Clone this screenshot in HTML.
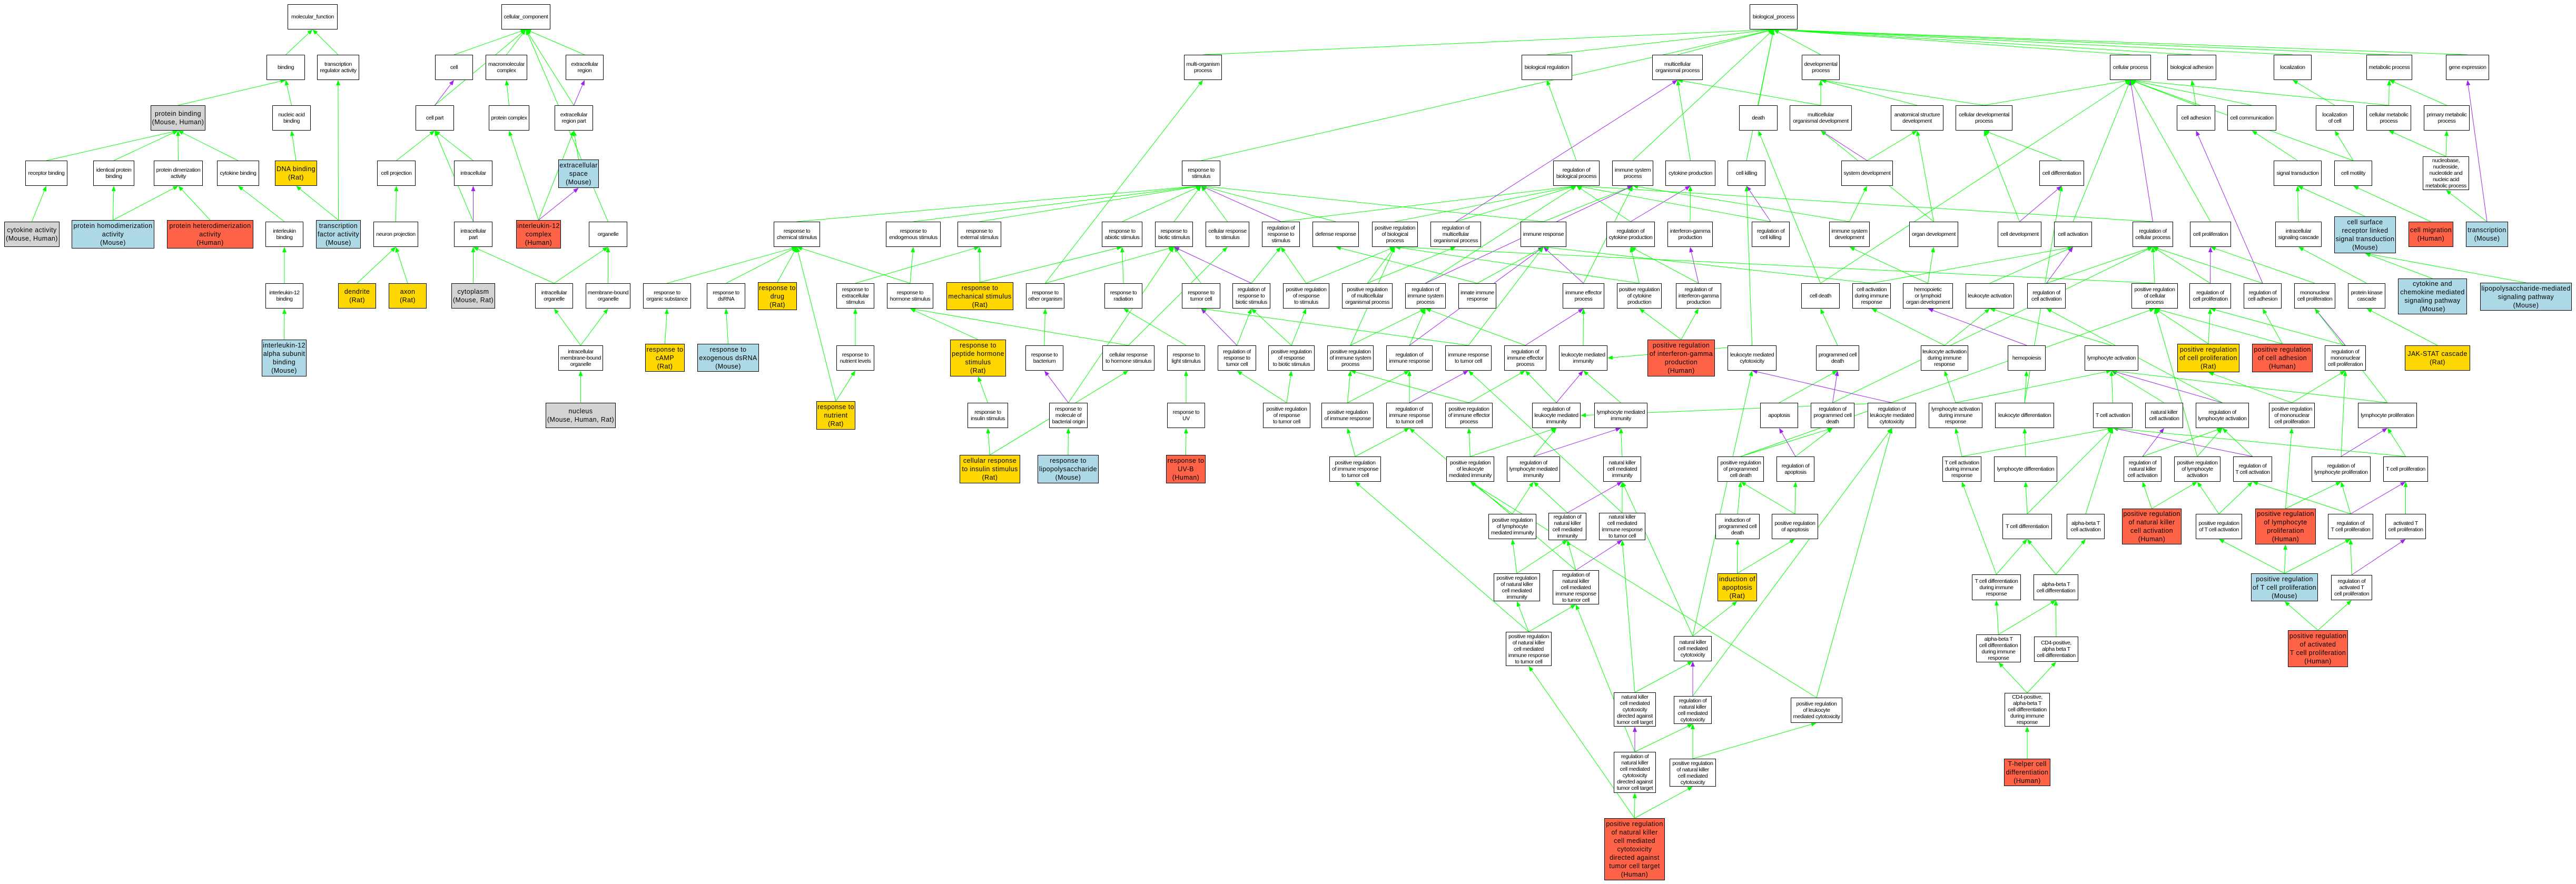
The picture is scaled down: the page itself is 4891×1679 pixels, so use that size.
<!DOCTYPE html>
<html><head><meta charset="utf-8">
<style>
html,body{margin:0;padding:0;background:#fff;}
#w{position:relative;width:4891px;height:1679px;overflow:hidden;background:#fff;font-family:"Liberation Sans",sans-serif;}
.n{position:absolute;box-sizing:border-box;border:1px solid #000;background:#fff;display:flex;align-items:center;justify-content:center;text-align:center;font-size:10.5px;line-height:12px;letter-spacing:-0.4px;color:#000;z-index:2;overflow:visible;white-space:nowrap;}
.c{font-size:12.5px;line-height:16px;letter-spacing:0.4px;}
.y{background:#FFD700}.b{background:#ADD8E6}.r{background:#FF6347}.g{background:#D3D3D3}
svg{position:absolute;left:0;top:0;z-index:1;}
</style></head><body><div id="w">
<svg id="s" width="4891" height="1679"></svg>
<!-- MF / CC -->
<div class="n" id="MF" style="left:546px;top:8px;width:95px;height:48px">molecular_function</div>
<div class="n" id="CC" style="left:952px;top:8px;width:93px;height:48px">cellular_component</div>
<div class="n" id="bind" style="left:506px;top:104px;width:73px;height:48px">binding</div>
<div class="n" id="tra" style="left:602px;top:104px;width:80px;height:48px">transcription<br>regulator activity</div>
<div class="n" id="cell" style="left:826px;top:104px;width:72px;height:48px">cell</div>
<div class="n" id="macro" style="left:922px;top:104px;width:79px;height:48px">macromolecular<br>complex</div>
<div class="n" id="exreg" style="left:1074px;top:104px;width:72px;height:48px">extracellular<br>region</div>
<div class="n c g" id="pbind" style="left:286px;top:200px;width:104px;height:48px">protein binding<br>(Mouse, Human)</div>
<div class="n" id="nab" style="left:517px;top:200px;width:73px;height:48px">nucleic acid<br>binding</div>
<div class="n" id="cpart" style="left:789px;top:200px;width:73px;height:48px">cell part</div>
<div class="n" id="pcomp" style="left:928px;top:200px;width:77px;height:48px">protein complex</div>
<div class="n" id="exrp" style="left:1053px;top:200px;width:73px;height:48px">extracellular<br>region part</div>
<div class="n" id="recb" style="left:48px;top:305px;width:80px;height:48px">receptor binding</div>
<div class="n" id="idpb" style="left:177px;top:305px;width:78px;height:48px">identical protein<br>binding</div>
<div class="n" id="pdim" style="left:292px;top:305px;width:93px;height:48px">protein dimerization<br>activity</div>
<div class="n" id="cytb" style="left:412px;top:305px;width:80px;height:48px">cytokine binding</div>
<div class="n c y" id="dnab" style="left:522px;top:305px;width:80px;height:48px">DNA binding<br>(Rat)</div>
<div class="n" id="cproj" style="left:716px;top:305px;width:73px;height:48px">cell projection</div>
<div class="n" id="intra" style="left:862px;top:305px;width:73px;height:48px">intracellular</div>
<div class="n c b" id="exsp" style="left:1060px;top:303px;width:77px;height:54px">extracellular<br>space<br>(Mouse)</div>
<div class="n c g" id="cyta" style="left:8px;top:421px;width:105px;height:48px">cytokine activity<br>(Mouse, Human)</div>
<div class="n c b" id="phomo" style="left:136px;top:418px;width:157px;height:54px">protein homodimerization<br>activity<br>(Mouse)</div>
<div class="n c r" id="phet" style="left:317px;top:418px;width:164px;height:54px">protein heterodimerization<br>activity<br>(Human)</div>
<div class="n" id="ilb" style="left:504px;top:421px;width:72px;height:48px">interleukin<br>binding</div>
<div class="n c b" id="tfa" style="left:600px;top:418px;width:85px;height:54px">transcription<br>factor activity<br>(Mouse)</div>
<div class="n" id="nproj" style="left:709px;top:421px;width:85px;height:48px">neuron projection</div>
<div class="n" id="intrap" style="left:862px;top:421px;width:73px;height:48px">intracellular<br>part</div>
<div class="n c r" id="il12c" style="left:980px;top:418px;width:85px;height:54px">interleukin-12<br>complex<br>(Human)</div>
<div class="n" id="org" style="left:1118px;top:421px;width:73px;height:48px">organelle</div>
<div class="n" id="il12b" style="left:504px;top:538px;width:72px;height:48px">interleukin-12<br>binding</div>
<div class="n c y" id="dend" style="left:642px;top:538px;width:72px;height:48px">dendrite<br>(Rat)</div>
<div class="n c y" id="axon" style="left:738px;top:538px;width:72px;height:48px">axon<br>(Rat)</div>
<div class="n c g" id="cytop" style="left:857px;top:538px;width:83px;height:48px">cytoplasm<br>(Mouse, Rat)</div>
<div class="n" id="iorg" style="left:1016px;top:538px;width:72px;height:48px">intracellular<br>organelle</div>
<div class="n" id="mborg" style="left:1112px;top:538px;width:85px;height:48px">membrane-bound<br>organelle</div>
<div class="n c b" id="il12a" style="left:497px;top:645px;width:85px;height:70px">interleukin-12<br>alpha subunit<br>binding<br>(Mouse)</div>
<div class="n" id="imborg" style="left:1060px;top:656px;width:85px;height:48px">intracellular<br>membrane-bound<br>organelle</div>
<div class="n c g" id="nuc" style="left:1036px;top:765px;width:133px;height:48px">nucleus<br>(Mouse, Human, Rat)</div>
<!-- response to stimulus area -->
<div class="n" id="mop" style="left:2248px;top:104px;width:72px;height:48px">multi-organism<br>process</div>
<div class="n" id="rts" style="left:2244px;top:305px;width:73px;height:48px">response to<br>stimulus</div>
<div class="n" id="rchem" style="left:1469px;top:421px;width:88px;height:48px">response to<br>chemical stimulus</div>
<div class="n" id="rendo" style="left:1682px;top:421px;width:104px;height:48px">response to<br>endogenous stimulus</div>
<div class="n" id="rext" style="left:1818px;top:421px;width:83px;height:48px">response to<br>external stimulus</div>
<div class="n" id="rabio" style="left:2092px;top:421px;width:77px;height:48px">response to<br>abiotic stimulus</div>
<div class="n" id="rbio" style="left:2193px;top:421px;width:72px;height:48px">response to<br>biotic stimulus</div>
<div class="n" id="crs" style="left:2289px;top:421px;width:83px;height:48px">cellular response<br>to stimulus</div>
<div class="n" id="rrs" style="left:2396px;top:421px;width:72px;height:48px">regulation of<br>response to<br>stimulus</div>
<div class="n" id="rorg" style="left:1221px;top:538px;width:91px;height:48px">response to<br>organic substance</div>
<div class="n" id="rdsrna" style="left:1342px;top:538px;width:73px;height:48px">response to<br>dsRNA</div>
<div class="n c y" id="rdrug" style="left:1439px;top:536px;width:74px;height:53px">response to<br>drug<br>(Rat)</div>
<div class="n" id="rextra" style="left:1588px;top:538px;width:72px;height:48px">response to<br>extracellular<br>stimulus</div>
<div class="n" id="rhorm" style="left:1684px;top:538px;width:88px;height:48px">response to<br>hormone stimulus</div>
<div class="n c y" id="rmech" style="left:1797px;top:536px;width:127px;height:53px">response to<br>mechanical stimulus<br>(Rat)</div>
<div class="n" id="rother" style="left:1948px;top:538px;width:73px;height:48px">response to<br>other organism</div>
<div class="n" id="rrad" style="left:2097px;top:538px;width:72px;height:48px">response to<br>radiation</div>
<div class="n" id="rtumor" style="left:2244px;top:538px;width:73px;height:48px">response to<br>tumor cell</div>
<div class="n" id="rrbio" style="left:2340px;top:538px;width:72px;height:48px">regulation of<br>response to<br>biotic stimulus</div>
<div class="n c y" id="rcamp" style="left:1225px;top:653px;width:75px;height:53px">response to<br>cAMP<br>(Rat)</div>
<div class="n c b" id="rexds" style="left:1324px;top:653px;width:117px;height:53px">response to<br>exogenous dsRNA<br>(Mouse)</div>
<div class="n" id="rnutl" style="left:1588px;top:656px;width:72px;height:48px">response to<br>nutrient levels</div>
<div class="n c y" id="rpep" style="left:1804px;top:645px;width:106px;height:70px">response to<br>peptide hormone<br>stimulus<br>(Rat)</div>
<div class="n" id="rbact" style="left:1947px;top:656px;width:72px;height:48px">response to<br>bacterium</div>
<div class="n" id="crhorm" style="left:2093px;top:656px;width:99px;height:48px">cellular response<br>to hormone stimulus</div>
<div class="n" id="rlight" style="left:2216px;top:656px;width:72px;height:48px">response to<br>light stimulus</div>
<div class="n" id="rrtum" style="left:2312px;top:656px;width:73px;height:48px">regulation of<br>response to<br>tumor cell</div>
<div class="n c y" id="rnut" style="left:1550px;top:762px;width:74px;height:54px">response to<br>nutrient<br>(Rat)</div>
<div class="n" id="rins" style="left:1837px;top:765px;width:77px;height:48px">response to<br>insulin stimulus</div>
<div class="n" id="rmol" style="left:1992px;top:765px;width:73px;height:48px">response to<br>molecule of<br>bacterial origin</div>
<div class="n" id="ruv" style="left:2216px;top:765px;width:72px;height:48px">response to<br>UV</div>
<div class="n c y" id="crins" style="left:1822px;top:864px;width:115px;height:54px">cellular response<br>to insulin stimulus<br>(Rat)</div>
<div class="n c b" id="rlps" style="left:1970px;top:864px;width:116px;height:54px">response to<br>lipopolysaccharide<br>(Mouse)</div>
<div class="n c r" id="ruvb" style="left:2214px;top:864px;width:75px;height:54px">response to<br>UV-B<br>(Human)</div>
<!-- BP middle -->
<div class="n" id="BP" style="left:3322px;top:8px;width:91px;height:48px">biological_process</div>
<div class="n" id="breg" style="left:2889px;top:104px;width:96px;height:48px">biological regulation</div>
<div class="n" id="mcop" style="left:3137px;top:104px;width:96px;height:48px">multicellular<br>organismal process</div>
<div class="n" id="devp" style="left:3421px;top:104px;width:72px;height:48px">developmental<br>process</div>
<div class="n" id="death" style="left:3302px;top:200px;width:73px;height:48px">death</div>
<div class="n" id="mcod" style="left:3398px;top:200px;width:118px;height:48px">multicellular<br>organismal development</div>
<div class="n" id="asd" style="left:3590px;top:200px;width:100px;height:48px">anatomical structure<br>development</div>
<div class="n" id="rbp" style="left:2949px;top:305px;width:88px;height:48px">regulation of<br>biological process</div>
<div class="n" id="isp" style="left:3061px;top:305px;width:78px;height:48px">immune system<br>process</div>
<div class="n" id="cytp" style="left:3162px;top:305px;width:95px;height:48px">cytokine production</div>
<div class="n" id="ckill" style="left:3280px;top:305px;width:72px;height:48px">cell killing</div>
<div class="n" id="sysd" style="left:3496px;top:305px;width:98px;height:48px">system development</div>
<div class="n" id="defr" style="left:2492px;top:421px;width:88px;height:48px">defense response</div>
<div class="n" id="prbp" style="left:2605px;top:421px;width:87px;height:48px">positive regulation<br>of biological<br>process</div>
<div class="n" id="rmcop" style="left:2716px;top:421px;width:96px;height:48px">regulation of<br>multicellular<br>organismal process</div>
<div class="n" id="ir" style="left:2887px;top:421px;width:87px;height:48px">immune response</div>
<div class="n" id="rcytp" style="left:3050px;top:421px;width:92px;height:48px">regulation of<br>cytokine production</div>
<div class="n" id="ifng" style="left:3166px;top:421px;width:86px;height:48px">interferon-gamma<br>production</div>
<div class="n" id="rckill" style="left:3326px;top:421px;width:72px;height:48px">regulation of<br>cell killing</div>
<div class="n" id="isd" style="left:3473px;top:421px;width:77px;height:48px">immune system<br>development</div>
<div class="n" id="orgd" style="left:3625px;top:421px;width:93px;height:48px">organ development</div>
<div class="n" id="prrs" style="left:2436px;top:538px;width:88px;height:48px">positive regulation<br>of response<br>to stimulus</div>
<div class="n" id="prmcop" style="left:2548px;top:538px;width:96px;height:48px">positive regulation<br>of multicellular<br>organismal process</div>
<div class="n" id="risp" style="left:2668px;top:538px;width:77px;height:48px">regulation of<br>immune system<br>process</div>
<div class="n" id="iir" style="left:2769px;top:538px;width:72px;height:48px">innate immune<br>response</div>
<div class="n" id="iep" style="left:2967px;top:538px;width:79px;height:48px">immune effector<br>process</div>
<div class="n" id="prcytp" style="left:3070px;top:538px;width:85px;height:48px">positive regulation<br>of cytokine<br>production</div>
<div class="n" id="rifng" style="left:3182px;top:538px;width:86px;height:48px">regulation of<br>interferon-gamma<br>production</div>
<div class="n" id="cdeath" style="left:3420px;top:538px;width:73px;height:48px">cell death</div>
<div class="n" id="cadir" style="left:3517px;top:538px;width:73px;height:48px">cell activation<br>during immune<br>response</div>
<div class="n" id="hlod" style="left:3613px;top:538px;width:95px;height:48px">hemopoietic<br>or lymphoid<br>organ development</div>
<div class="n" id="prrbio" style="left:2408px;top:656px;width:88px;height:48px">positive regulation<br>of response<br>to biotic stimulus</div>
<div class="n" id="prisp" style="left:2520px;top:656px;width:88px;height:48px">positive regulation<br>of immune system<br>process</div>
<div class="n" id="rir" style="left:2632px;top:656px;width:88px;height:48px">regulation of<br>immune response</div>
<div class="n" id="irtc" style="left:2744px;top:656px;width:88px;height:48px">immune response<br>to tumor cell</div>
<div class="n" id="riep" style="left:2856px;top:656px;width:80px;height:48px">regulation of<br>immune effector<br>process</div>
<div class="n" id="lmi" style="left:2960px;top:656px;width:92px;height:48px">leukocyte mediated<br>immunity</div>
<div class="n c r" id="prifng" style="left:3128px;top:645px;width:128px;height:70px">positive regulation<br>of interferon-gamma<br>production<br>(Human)</div>
<div class="n" id="lmc" style="left:3280px;top:656px;width:93px;height:48px">leukocyte mediated<br>cytotoxicity</div>
<div class="n" id="pcd" style="left:3448px;top:656px;width:82px;height:48px">programmed cell<br>death</div>
<div class="n" id="ladir" style="left:3647px;top:656px;width:90px;height:48px">leukocyte activation<br>during immune<br>response</div>
<div class="n" id="prrtc" style="left:2398px;top:765px;width:90px;height:48px">positive regulation<br>of response<br>to tumor cell</div>
<div class="n" id="prir" style="left:2509px;top:765px;width:99px;height:48px">positive regulation<br>of immune response</div>
<div class="n" id="rirtc" style="left:2632px;top:765px;width:88px;height:48px">regulation of<br>immune response<br>to tumor cell</div>
<div class="n" id="prieb" style="left:2744px;top:765px;width:90px;height:48px">positive regulation<br>of immune effector<br>process</div>
<div class="n" id="rlmi" style="left:2909px;top:765px;width:92px;height:48px">regulation of<br>leukocyte mediated<br>immunity</div>
<div class="n" id="lymi" style="left:3027px;top:765px;width:101px;height:48px">lymphocyte mediated<br>immunity</div>
<div class="n" id="apop" style="left:3342px;top:765px;width:72px;height:48px">apoptosis</div>
<div class="n" id="rpcd" style="left:3438px;top:765px;width:83px;height:48px">regulation of<br>programmed cell<br>death</div>
<div class="n" id="rlmc" style="left:3546px;top:765px;width:92px;height:48px">regulation of<br>leukocyte mediated<br>cytotoxicity</div>
<!-- cellular process area -->
<div class="n" id="cp" style="left:4006px;top:104px;width:78px;height:48px">cellular process</div>
<div class="n" id="badh" style="left:4115px;top:104px;width:93px;height:48px">biological adhesion</div>
<div class="n" id="loc" style="left:4317px;top:104px;width:72px;height:48px">localization</div>
<div class="n" id="metp" style="left:4493px;top:104px;width:87px;height:48px">metabolic process</div>
<div class="n" id="gexp" style="left:4644px;top:104px;width:82px;height:48px">gene expression</div>
<div class="n" id="cdp" style="left:3713px;top:200px;width:108px;height:48px">cellular developmental<br>process</div>
<div class="n" id="cadh" style="left:4133px;top:200px;width:73px;height:48px">cell adhesion</div>
<div class="n" id="ccomm" style="left:4229px;top:200px;width:93px;height:48px">cell communication</div>
<div class="n" id="locc" style="left:4397px;top:200px;width:72px;height:48px">localization<br>of cell</div>
<div class="n" id="cmp" style="left:4493px;top:200px;width:85px;height:48px">cellular metabolic<br>process</div>
<div class="n" id="pmp" style="left:4602px;top:200px;width:87px;height:48px">primary metabolic<br>process</div>
<div class="n" id="cdiff" style="left:3872px;top:305px;width:85px;height:48px">cell differentiation</div>
<div class="n" id="sigt" style="left:4317px;top:305px;width:91px;height:48px">signal transduction</div>
<div class="n" id="cmot" style="left:4432px;top:305px;width:72px;height:48px">cell motility</div>
<div class="n" id="nuc2" style="left:4600px;top:297px;width:88px;height:64px">nucleobase,<br>nucleoside,<br>nucleotide and<br>nucleic acid<br>metabolic process</div>
<div class="n" id="cdev" style="left:3793px;top:421px;width:83px;height:48px">cell development</div>
<div class="n" id="cact" style="left:3900px;top:421px;width:72px;height:48px">cell activation</div>
<div class="n" id="rcp" style="left:4049px;top:421px;width:77px;height:48px">regulation of<br>cellular process</div>
<div class="n" id="cprol" style="left:4158px;top:421px;width:78px;height:48px">cell proliferation</div>
<div class="n" id="iscasc" style="left:4320px;top:421px;width:88px;height:48px">intracellular<br>signaling cascade</div>
<div class="n c b" id="csr" style="left:4432px;top:411px;width:117px;height:70px">cell surface<br>receptor linked<br>signal transduction<br>(Mouse)</div>
<div class="n c r" id="cmig" style="left:4573px;top:421px;width:85px;height:48px">cell migration<br>(Human)</div>
<div class="n c b" id="trans" style="left:4682px;top:421px;width:80px;height:48px">transcription<br>(Mouse)</div>
<div class="n" id="lact" style="left:3732px;top:538px;width:92px;height:48px">leukocyte activation</div>
<div class="n" id="rca" style="left:3849px;top:538px;width:73px;height:48px">regulation of<br>cell activation</div>
<div class="n" id="prcp" style="left:4047px;top:538px;width:88px;height:48px">positive regulation<br>of cellular<br>process</div>
<div class="n" id="rcprol" style="left:4157px;top:538px;width:79px;height:48px">regulation of<br>cell proliferation</div>
<div class="n" id="rcadh" style="left:4260px;top:538px;width:72px;height:48px">regulation of<br>cell adhesion</div>
<div class="n" id="mcprol" style="left:4356px;top:538px;width:78px;height:48px">mononuclear<br>cell proliferation</div>
<div class="n" id="pkc" style="left:4458px;top:538px;width:71px;height:48px">protein kinase<br>cascade</div>
<div class="n c b" id="ccm" style="left:4553px;top:529px;width:131px;height:68px">cytokine and<br>chemokine mediated<br>signaling pathway<br>(Mouse)</div>
<div class="n c b" id="lpsm" style="left:4709px;top:537px;width:174px;height:53px">lipopolysaccharide-mediated<br>signaling pathway<br>(Mouse)</div>
<div class="n" id="hemo" style="left:3812px;top:656px;width:72px;height:48px">hemopoiesis</div>
<div class="n" id="lyact" style="left:3958px;top:656px;width:102px;height:48px">lymphocyte activation</div>
<div class="n c y" id="prcprol" style="left:4134px;top:653px;width:118px;height:54px">positive regulation<br>of cell proliferation<br>(Rat)</div>
<div class="n c r" id="prcadh" style="left:4276px;top:653px;width:115px;height:54px">positive regulation<br>of cell adhesion<br>(Human)</div>
<div class="n" id="rmcprol" style="left:4414px;top:656px;width:78px;height:48px">regulation of<br>mononuclear<br>cell proliferation</div>
<div class="n c y" id="jak" style="left:4566px;top:656px;width:124px;height:48px">JAK-STAT cascade<br>(Rat)</div>
<div class="n" id="lyadir" style="left:3662px;top:765px;width:102px;height:48px">lymphocyte activation<br>during immune<br>response</div>
<div class="n" id="ldiff" style="left:3788px;top:765px;width:112px;height:48px">leukocyte differentiation</div>
<div class="n" id="tca" style="left:3974px;top:765px;width:75px;height:48px">T cell activation</div>
<div class="n" id="nka" style="left:4073px;top:765px;width:72px;height:48px">natural killer<br>cell activation</div>
<div class="n" id="rlya" style="left:4169px;top:765px;width:101px;height:48px">regulation of<br>lymphocyte activation</div>
<div class="n" id="prmcprol" style="left:4308px;top:765px;width:87px;height:48px">positive regulation<br>of mononuclear<br>cell proliferation</div>
<div class="n" id="lyprol" style="left:4477px;top:765px;width:112px;height:48px">lymphocyte proliferation</div>
<!-- lower rows -->
<div class="n" id="prirtc" style="left:2524px;top:867px;width:98px;height:48px">positive regulation<br>of immune response<br>to tumor cell</div>
<div class="n" id="prlmi" style="left:2746px;top:867px;width:91px;height:48px">positive regulation<br>of leukocyte<br>mediated immunity</div>
<div class="n" id="rlymi" style="left:2861px;top:867px;width:101px;height:48px">regulation of<br>lymphocyte mediated<br>immunity</div>
<div class="n" id="nkmi" style="left:3044px;top:867px;width:72px;height:48px">natural killer<br>cell mediated<br>immunity</div>
<div class="n" id="prpcd" style="left:3261px;top:867px;width:88px;height:48px">positive regulation<br>of programmed<br>cell death</div>
<div class="n" id="rapop" style="left:3373px;top:867px;width:72px;height:48px">regulation of<br>apoptosis</div>
<div class="n" id="tcadir" style="left:3688px;top:867px;width:74px;height:48px">T cell activation<br>during immune<br>response</div>
<div class="n" id="lydiff" style="left:3786px;top:867px;width:120px;height:48px">lymphocyte differentiation</div>
<div class="n" id="rnka" style="left:4032px;top:867px;width:72px;height:48px">regulation of<br>natural killer<br>cell activation</div>
<div class="n" id="prlya" style="left:4128px;top:867px;width:88px;height:48px">positive regulation<br>of lymphocyte<br>activation</div>
<div class="n" id="rtca" style="left:4240px;top:867px;width:74px;height:48px">regulation of<br>T cell activation</div>
<div class="n" id="rlyprol" style="left:4389px;top:867px;width:112px;height:48px">regulation of<br>lymphocyte proliferation</div>
<div class="n" id="tcprol" style="left:4525px;top:867px;width:85px;height:48px">T cell proliferation</div>
<div class="n" id="prlymi" style="left:2826px;top:976px;width:91px;height:48px">positive regulation<br>of lymphocyte<br>mediated immunity</div>
<div class="n" id="rnkmi" style="left:2940px;top:974px;width:72px;height:52px">regulation of<br>natural killer<br>cell mediated<br>immunity</div>
<div class="n" id="nkirtc" style="left:3036px;top:974px;width:88px;height:52px">natural killer<br>cell mediated<br>immune response<br>to tumor cell</div>
<div class="n" id="ipcd" style="left:3257px;top:976px;width:84px;height:48px">induction of<br>programmed cell<br>death</div>
<div class="n" id="prapop" style="left:3364px;top:976px;width:88px;height:48px">positive regulation<br>of apoptosis</div>
<div class="n" id="tcd" style="left:3802px;top:976px;width:94px;height:48px">T cell differentiation</div>
<div class="n" id="abtca" style="left:3924px;top:976px;width:72px;height:48px">alpha-beta T<br>cell activation</div>
<div class="n c r" id="prnka" style="left:4029px;top:966px;width:113px;height:68px">positive regulation<br>of natural killer<br>cell activation<br>(Human)</div>
<div class="n" id="prtca" style="left:4169px;top:976px;width:88px;height:48px">positive regulation<br>of T cell activation</div>
<div class="n c r" id="prlyprol" style="left:4282px;top:966px;width:115px;height:68px">positive regulation<br>of lymphocyte<br>proliferation<br>(Human)</div>
<div class="n" id="rtcprol" style="left:4420px;top:976px;width:86px;height:48px">regulation of<br>T cell proliferation</div>
<div class="n" id="atcprol" style="left:4529px;top:976px;width:77px;height:48px">activated T<br>cell proliferation</div>
<div class="n" id="prnkmi" style="left:2836px;top:1089px;width:88px;height:53px">positive regulation<br>of natural killer<br>cell mediated<br>immunity</div>
<div class="n" id="rnkirtc" style="left:2948px;top:1083px;width:88px;height:65px">regulation of<br>natural killer<br>cell mediated<br>immune response<br>to tumor cell</div>
<div class="n c y" id="indap" style="left:3261px;top:1089px;width:75px;height:53px">induction of<br>apoptosis<br>(Rat)</div>
<div class="n" id="tcdir" style="left:3744px;top:1091px;width:93px;height:49px">T cell differentiation<br>during immune<br>response</div>
<div class="n" id="abtcd" style="left:3861px;top:1091px;width:85px;height:49px">alpha-beta T<br>cell differentiation</div>
<div class="n c b" id="prtcprol" style="left:4274px;top:1089px;width:127px;height:53px">positive regulation<br>of T cell proliferation<br>(Mouse)</div>
<div class="n" id="ratcprol" style="left:4426px;top:1092px;width:78px;height:48px">regulation of<br>activated T<br>cell proliferation</div>
<div class="n" id="prnkirtc" style="left:2859px;top:1200px;width:87px;height:65px">positive regulation<br>of natural killer<br>cell mediated<br>immune response<br>to tumor cell</div>
<div class="n" id="nkmc" style="left:3178px;top:1208px;width:72px;height:48px">natural killer<br>cell mediated<br>cytotoxicity</div>
<div class="n" id="abtcdir" style="left:3752px;top:1205px;width:85px;height:53px">alpha-beta T<br>cell differentiation<br>during immune<br>response</div>
<div class="n" id="cd4d" style="left:3862px;top:1209px;width:84px;height:48px">CD4-positive,<br>alpha beta T<br>cell differentiation</div>
<div class="n c r" id="pratcprol" style="left:4344px;top:1197px;width:114px;height:70px">positive regulation<br>of activated<br>T cell proliferation<br>(Human)</div>
<div class="n" id="nkmctt" style="left:3064px;top:1315px;width:80px;height:65px">natural killer<br>cell mediated<br>cytotoxicity<br>directed against<br>tumor cell target</div>
<div class="n" id="rnkmc" style="left:3178px;top:1322px;width:72px;height:53px">regulation of<br>natural killer<br>cell mediated<br>cytotoxicity</div>
<div class="n" id="prlmc" style="left:3400px;top:1325px;width:98px;height:48px">positive regulation<br>of leukocyte<br>mediated cytotoxicity</div>
<div class="n" id="cd4dir" style="left:3806px;top:1316px;width:86px;height:64px">CD4-positive,<br>alpha-beta T<br>cell differentiation<br>during immune<br>response</div>
<div class="n" id="rnkmctt" style="left:3064px;top:1428px;width:80px;height:78px">regulation of<br>natural killer<br>cell mediated<br>cytotoxicity<br>directed against<br>tumor cell target</div>
<div class="n" id="prnkmc" style="left:3170px;top:1441px;width:88px;height:53px">positive regulation<br>of natural killer<br>cell mediated<br>cytotoxicity</div>
<div class="n c r" id="thelp" style="left:3805px;top:1441px;width:88px;height:52px">T-helper cell<br>differentiation<br>(Human)</div>
<div class="n c r" id="prnkmctt" style="left:3046px;top:1554px;width:115px;height:118px">positive regulation<br>of natural killer<br>cell mediated<br>cytotoxicity<br>directed against<br>tumor cell target<br>(Human)</div>
</div>
<script>
var E="bind MF,tra MF,pbind bind,nab bind,tfa tra,recb pbind,idpb pbind,pdim pbind,cytb pbind,dnab nab,cyta recb,phomo idpb,phomo pdim,phet pdim,ilb cytb,tfa dnab,il12b ilb,il12a il12b,"+
"cell CC,macro CC,exreg CC,cpart CC,cpart cell P,pcomp macro,exrp exreg P,exrp CC,cproj cpart,intra cpart,intrap cpart,intrap intra P,il12c pcomp,il12c exrp,il12c exsp P,exsp exrp,org CC,nproj cproj,dend nproj,axon nproj,cytop intrap,iorg intrap,iorg org,mborg org,imborg iorg,imborg mborg,nuc imborg,"+
"mop BP,rts BP,breg BP,mcop BP,devp BP,cp BP,badh BP,loc BP,metp BP,gexp BP,death BP,isp BP,ckill BP,"+
"rchem rts,rendo rts,rext rts,rabio rts,rbio rts,crs rts,rrs rts P,rrs rbp,rorg rchem,rdsrna rchem,rdrug rchem,rnut rchem,rhorm rchem,rhorm rendo,rextra rext,rmech rext,rmech rabio,rother rbio,rother mop,rrad rabio,rtumor rbio,rrbio rbio P,rrbio rrs,rcamp rorg,rexds rdsrna,rnutl rextra,rnut rnutl,rpep rhorm,crhorm rhorm,crhorm crs,rbact rother,rlight rrad,rrtum rtumor P,rrtum rrbio,rins rpep,rmol rbact P,rmol rbio,ruv rlight,crins rins,crins crhorm,rlps rmol,ruvb ruv,"+
"rbp breg,cytp mcop,mcod mcop,mcod devp,asd devp,sysd mcod P,sysd asd,defr rts,prbp rbp,rmcop rbp,rmcop mcop P,ir isp,ir rts,rcytp rbp,rcytp cytp P,ifng cytp,rckill rbp,rckill ckill P,isd isp,isd sysd,orgd asd,orgd mcod,prrs rrs,prrs prbp,prmcop rmcop,prmcop prbp,risp rbp,risp isp P,iir ir,iir defr,iep isp,iep ir P,prcytp rcytp,prcytp prbp,rifng rcytp,rifng ifng P,cdeath death,cdeath cp,cadir ir,cadir cact,hlod orgd,hlod isd,prrbio rrbio,prrbio prrs,prisp risp,prisp prbp,rir risp,rir ir P,irtc ir,irtc rtumor,riep risp,riep iep P,lmi iep,prifng rifng,prifng prcytp,lmc lmi,lmc ckill,pcd cdeath,ladir lact,ladir cadir,prrtc rrtum,prrtc prrbio,prir rir,prir prisp,rirtc rir,rirtc irtc P,prieb riep,prieb prisp,rlmi riep,rlmi lmi P,lymi lmi,apop pcd,rpcd pcd P,rpcd rcp,rlmc rlmi,rlmc lmc P,"+
"cdp cp,cdp devp,cadh badh,cadh cp,ccomm cp,locc loc,cmp cp,cmp metp,pmp metp,cdiff cdp,sigt ccomm,cmot locc,cmot cp,nuc2 cmp,nuc2 pmp,cdev cdiff P,cdev cdp,cact cp,rcp cp P,rcp rbp,cprol cp,iscasc sigt,csr sigt,cmig cmot,trans nuc2,trans gexp P,lact cact,rca rcp,rca cact P,prcp rcp,prcp prbp,rcprol rcp,rcprol cprol P,rcadh rcp,rcadh cadh P,mcprol cprol,pkc iscasc,ccm csr,lpsm csr,hemo hlod P,lyact lact,prcprol rcprol,prcprol prcp,prcadh rcadh,prcadh prcp,rmcprol rcprol,rmcprol mcprol P,jak pkc,lyadir lyact,lyadir ladir,ldiff hemo,ldiff cdiff,tca lyact,nka lyact,rlya lyact P,rlya rca,prmcprol rmcprol,prmcprol prcprol,lyprol mcprol,lyprol lyact,"+
"prirtc prir,prirtc rirtc,prlmi rlmi,prlmi prieb,rlymi rlmi,rlymi lymi P,nkmi lymi,prpcd rpcd,prpcd prcp,rapop rpcd,rapop apop P,tcadir tca,tcadir lyadir,lydiff ldiff,rnka rlya,rnka nka P,prlya rlya,prlya prcp,rtca rlya,rtca tca P,rlyprol rmcprol,rlyprol lyprol P,tcprol lyprol,tcprol tca,"+
"prlymi rlymi,prlymi prlmi,rnkmi rlymi,rnkmi nkmi P,nkirtc nkmi,nkirtc irtc,ipcd prpcd,prapop rapop,prapop prpcd,tcd lydiff,tcd tca,abtca tca,prnka rnka,prnka prlya,prtca rtca,prtca prlya,prlyprol rlyprol,prlyprol prmcprol,rtcprol rlyprol,rtcprol tcprol P,rtcprol rtca,atcprol tcprol,"+
"prnkmi rnkmi,prnkmi prlymi,rnkirtc rnkmi,rnkirtc nkirtc P,rnkirtc rirtc,indap ipcd,indap prapop,tcdir tcd,tcdir tcadir,abtcd tcd,abtcd abtca,prtcprol rtcprol,prtcprol prlyprol,prtcprol prtca,ratcprol rtcprol,ratcprol atcprol P,"+
"prnkirtc rnkirtc,prnkirtc prnkmi,prnkirtc prirtc,nkmc nkmi,nkmc lmc,nkmc indap,abtcdir tcdir,abtcdir abtcd,cd4d abtcd,pratcprol prtcprol,pratcprol ratcprol,"+
"nkmctt nkmc,nkmctt nkirtc,rnkmc nkmc P,rnkmc rlmc,prlmc rlmc,prlmc prlmi,cd4dir abtcdir,cd4dir cd4d,rnkmctt nkmctt P,rnkmctt rnkmc,rnkmctt rnkirtc,prnkmc rnkmc,prnkmc prlmc,thelp cd4dir,prnkmctt rnkmctt,prnkmctt prnkmc,prnkmctt prnkirtc";
var s=document.getElementById('s'),ns="http://www.w3.org/2000/svg",h="";
function R(id){var e=document.getElementById(id);if(!e)return null;return{x:e.offsetLeft,y:e.offsetTop,w:e.offsetWidth,h:e.offsetHeight};}
E.split(',').forEach(function(t){var p=t.split(' ');var c=R(p[0]),q=R(p[1]);if(!c||!q)return;
var col=p[2]?'#A020F0':'#00FF00';
var x1=c.x+c.w/2,y1=c.y,x2=q.x+q.w/2,y2=q.y+q.h;
if(q.y+q.h>c.y-5){y2=q.y+q.h/2;x2=(x1<q.x)?q.x:q.x+q.w;}
var dx=x2-x1,dy=y2-y1,L=Math.sqrt(dx*dx+dy*dy)||1,ux=dx/L,uy=dy/L;
var bx=x2-ux*10,by=y2-uy*10;
h+='<line x1="'+x1+'" y1="'+y1+'" x2="'+bx+'" y2="'+by+'" stroke="'+col+'" stroke-width="1"/>';
h+='<polygon points="'+x2+','+y2+' '+(bx-uy*4)+','+(by+ux*4)+' '+(bx+uy*4)+','+(by-ux*4)+'" fill="'+col+'"/>';});
s.innerHTML=h;
</script>
</body></html>
